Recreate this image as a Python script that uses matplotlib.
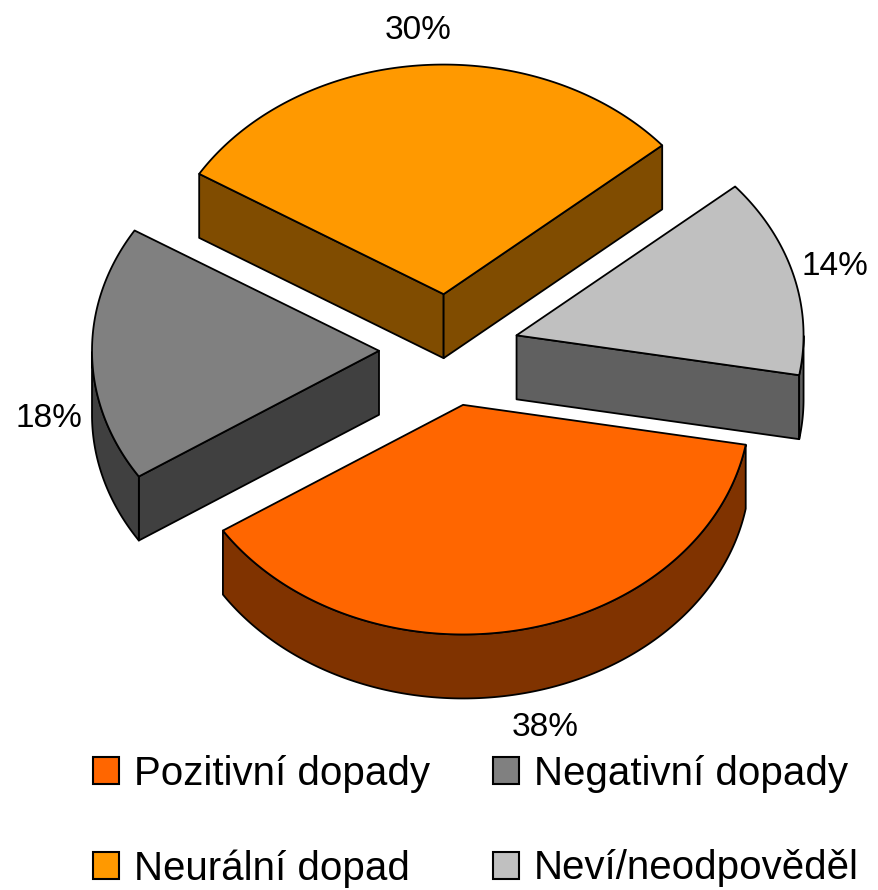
import numpy as np
import matplotlib
matplotlib.use("Agg")
import matplotlib.pyplot as plt
from matplotlib.patches import Polygon, Patch

plt.rcParams['font.family'] = ['Liberation Sans', 'DejaVu Sans']

# data
labels = ["Pozitivní dopady", "Negativní dopady", "Neurální dopad", "Neví/neodpověděl"]
shares = [38, 18, 30, 14]
top_colors = ["#ff6600", "#808080", "#ff9900", "#c0c0c0"]
side_colors = ["#803300", "#404040", "#804c00", "#606060"]

# 3d pie geometry (pixels)
cx, cy = 449, 350
R = 287
k = 0.8          # vertical squash of the tilted pie
h = 64           # thickness
explode = 70
start = 10.0     # degrees, clockwise on screen

fig = plt.figure(figsize=(8.79, 8.90), dpi=100)
ax = fig.add_axes([0, 0, 1, 1])
ax.set_xlim(0, 879)
ax.set_ylim(890, 0)
ax.axis('off')


def pt(ox, oy, t, dz=0):
    return ox + R * np.cos(t), oy + k * R * np.sin(t) + dz


slices = []
a = np.radians(start)
for i, s in enumerate(shares):
    span = np.radians(s / 100 * 360)
    b = a + span / 2
    ox = cx + explode * np.cos(b)
    oy = cy + k * explode * np.sin(b)
    slices.append((oy, i, a, a + span, b, ox))
    a += span

lw = 1.3
# back to front
for oy, i, t1, t2, b, ox in sorted(slices):
    # cut faces
    for t, vis in ((t1, np.cos(t1) < 0), (t2, np.cos(t2) > 0)):
        if vis:
            x, y = pt(ox, oy, t)
            face = [(ox, oy), (x, y), (x, y + h), (ox, oy + h)]
            ax.add_patch(Polygon(face, closed=True, fc=side_colors[i], ec='black', lw=lw, joinstyle='round'))
    # outer wall, only the part facing the viewer
    ts = np.linspace(t1, t2, 200)
    front = ts[np.sin(ts) > 0]
    if len(front) > 1:
        xs, ys = pt(ox, oy, front)
        wall = list(zip(xs, ys)) + list(zip(xs[::-1], ys[::-1] + h))
        ax.add_patch(Polygon(wall, closed=True, fc=side_colors[i], ec='black', lw=lw, joinstyle='round'))
    # top face
    xs, ys = pt(ox, oy, ts)
    top = [(ox, oy)] + list(zip(xs, ys))
    ax.add_patch(Polygon(top, closed=True, fc=top_colors[i], ec='black', lw=lw, joinstyle='round'))

# percentage labels
RL = 400
for oy, i, t1, t2, b, ox in slices:
    lx = cx + RL * np.cos(b) * (1.2 if np.sin(b) > 0.5 else 1.0)
    ly = cy + k * RL * np.sin(b) + (h if np.sin(b) >= 0 else 0)
    ax.text(lx, ly, f"{shares[i]}%", fontsize=24, ha='center', va='center')

# legend: row 1 = Pozitivní, Negativní; row 2 = Neurální, Neví
order = [0, 2, 1, 3]
handles = [Patch(fc=top_colors[j], ec='black', lw=1.5) for j in order]
ax.legend(handles, [labels[j] for j in order], ncol=2, loc='upper left',
          bbox_to_anchor=(93, 755), bbox_transform=ax.transData,
          frameon=False, fontsize=29, borderpad=0, borderaxespad=0,
          handlelength=0.65, handleheight=0.65, handletextpad=0.37,
          columnspacing=1.55, labelspacing=1.4)

fig.savefig("out.png", dpi=100)
